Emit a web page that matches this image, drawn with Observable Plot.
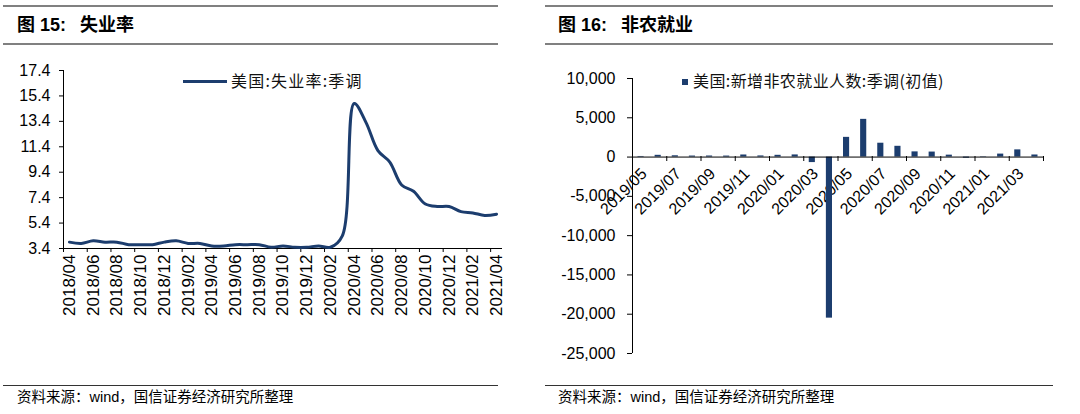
<!DOCTYPE html>
<html><head><meta charset="utf-8">
<script src="https://cdn.jsdelivr.net/npm/d3@7"></script>
<script src="https://cdn.jsdelivr.net/npm/@observablehq/plot@0.6"></script>
<style>
body{margin:0;background:#fff;}
#root{position:relative;width:1080px;height:414px;overflow:hidden;background:#fff;font-family:"Liberation Sans",Arial,"Noto Sans CJK SC",sans-serif;color:#000;}
.hr{position:absolute;height:0;}
.title{position:absolute;font-weight:bold;font-size:18px;line-height:20px;white-space:nowrap;font-family:"Liberation Sans",Arial,"Noto Sans CJK SC",sans-serif;}
.title .gap{display:inline-block;width:14px;}
.foot{position:absolute;font-size:14.5px;line-height:16px;white-space:nowrap;}
.legend{position:absolute;font-size:16px;line-height:18px;white-space:nowrap;font-family:"Noto Sans CJK SC",sans-serif;color:#111;}
.fig{position:absolute;}
</style>
</head><body>
<div id="root">
  <div class="hr" style="left:3px;width:495px;top:5px;border-top:2px solid #808080"></div>
  <div class="hr" style="left:3px;width:495px;top:43px;border-top:2px solid #808080"></div>
  <div class="title" style="left:17px;top:15px">图 15:<span class="gap"></span>失业率</div>
  <div class="hr" style="left:545px;width:508px;top:5px;border-top:2px solid #808080"></div>
  <div class="hr" style="left:545px;width:508px;top:43px;border-top:2px solid #808080"></div>
  <div class="title" style="left:558px;top:15px">图 16:<span class="gap"></span>非农就业</div>

  <div class="fig" id="fig1" style="left:0px;top:50px"></div>
  <div class="fig" id="fig2" style="left:540px;top:50px"></div>

  <div class="legend" style="left:183px;top:71px;letter-spacing:1.2px"><span style="display:inline-block;width:44px;height:3px;background:#1c3d6e;vertical-align:middle;margin-right:4px;position:relative;top:-1px"></span>美国:失业率:季调</div>
  <div class="legend" style="left:682px;top:71px;letter-spacing:0.4px"><span style="display:inline-block;width:6px;height:6px;background:#1c3d6e;vertical-align:middle;margin-right:5px;position:relative;top:-1px"></span>美国:新增非农就业人数:季调(初值)</div>

  <div class="hr" style="left:3px;width:495px;top:385px;border-top:1px solid #333"></div>
  <div class="foot" style="left:17px;top:389px">资料来源：wind，国信证券经济研究所整理</div>
  <div class="hr" style="left:545px;width:508px;top:385px;border-top:1px solid #333"></div>
  <div class="foot" style="left:558px;top:389px">资料来源：wind，国信证券经济研究所整理</div>
</div>
<script>
// ---- Data: US unemployment rate (SA), %
const urMonths = ["2018/04","2018/05","2018/06","2018/07","2018/08","2018/09","2018/10","2018/11","2018/12",
  "2019/01","2019/02","2019/03","2019/04","2019/05","2019/06","2019/07","2019/08","2019/09","2019/10","2019/11","2019/12",
  "2020/01","2020/02","2020/03","2020/04","2020/05","2020/06","2020/07","2020/08","2020/09","2020/10","2020/11","2020/12",
  "2021/01","2021/02","2021/03","2021/04"];
const urValues = [3.9,3.8,4.0,3.9,3.9,3.7,3.7,3.7,3.9,
  4.0,3.8,3.8,3.6,3.6,3.7,3.7,3.7,3.5,3.6,3.5,3.5,
  3.6,3.5,4.4,14.8,13.3,11.1,10.2,8.4,7.9,6.9,6.7,6.7,
  6.3,6.2,6.0,6.1];
const urTicks = [3.4,5.4,7.4,9.4,11.4,13.4,15.4,17.4];

// ---- Data: US nonfarm payrolls change (SA, initial), thousands
const nfpMonths = ["2019/05","2019/06","2019/07","2019/08","2019/09","2019/10","2019/11","2019/12",
  "2020/01","2020/02","2020/03","2020/04","2020/05","2020/06","2020/07","2020/08","2020/09","2020/10","2020/11","2020/12",
  "2021/01","2021/02","2021/03","2021/04"];
const nfpValues = [75,224,164,130,136,128,266,145,
  225,273,-701,-20500,2509,4800,1763,1371,661,638,245,-140,
  49,379,916,266];
const nfpTicks = [-25000,-20000,-15000,-10000,-5000,0,5000,10000];

const NAVY = "#1c3d6e";
const axisStyle = {fontFamily:"'Liberation Sans', Arial, sans-serif", fontSize:"16px", color:"#000", background:"transparent", overflow:"visible"};

// ---- Left: line chart
const fig1 = Plot.plot({
  width: 520, height: 280,
  marginTop: 20, marginBottom: 82, marginLeft: 63, marginRight: 18,
  style: axisStyle,
  x: {domain: [0, urMonths.length]},
  y: {domain: [urTicks[0], urTicks[urTicks.length-1]]},
  marks: [
    Plot.ruleY([urTicks[0]], {stroke:"#000"}),
    Plot.ruleX([0], {stroke:"#000"}),
    Plot.axisY(urTicks, {tickSize: 4, tickPadding: 9, tickFormat: d => d.toFixed(1)}),
    Plot.axisX(d3.range(0, urMonths.length, 2), {tickSize: 4, tickFormat: () => ""}),
    Plot.axisX(d3.range(0, urMonths.length, 2).map(i => i + 0.5), {tickSize: 0, tickPadding: 6, tickRotate: -90, fontSize: 17, tickFormat: d => urMonths[d - 0.5]}),
    Plot.line(urValues, {x: (d,i) => i + 0.5, y: d => d, curve: "catmull-rom", stroke: NAVY, strokeWidth: 3})
  ]
});
document.getElementById("fig1").appendChild(fig1);

// ---- Right: bar chart
const nfpLabelIdx = d3.range(0, nfpMonths.length, 2);
const fig2 = Plot.plot({
  width: 520, height: 320,
  marginTop: 28, marginBottom: 17, marginLeft: 92, marginRight: 17,
  style: axisStyle,
  x: {domain: [0, nfpMonths.length]},
  y: {domain: [nfpTicks[0], nfpTicks[nfpTicks.length-1]]},
  marks: [
    Plot.ruleX([0], {stroke:"#000"}),
    Plot.axisY(nfpTicks, {tickSize: 5, tickPadding: 12, tickFormat: d => (d < 0 ? "-" : "") + d3.format(",")(Math.abs(d))}),
    Plot.text(nfpLabelIdx, {x: i => i + 0.5, y: () => 0, text: i => nfpMonths[i], rotate: -45, textAnchor: "end", dx: 3, dy: 14, fontSize: 16}),
    Plot.rectY(nfpValues, {x1: (d,i) => i, x2: (d,i) => i + 1, y1: () => 0, y2: d => d, insetLeft: 5.5, insetRight: 5.5, fill: NAVY}),
    Plot.ruleY([0], {stroke:"#000"}),
    Plot.axisX(d3.range(0, nfpMonths.length + 1, 2), {tickSize: 5, tickFormat: () => "", dy: -197})
  ]
});
document.getElementById("fig2").appendChild(fig2);
</script>
</body></html>
